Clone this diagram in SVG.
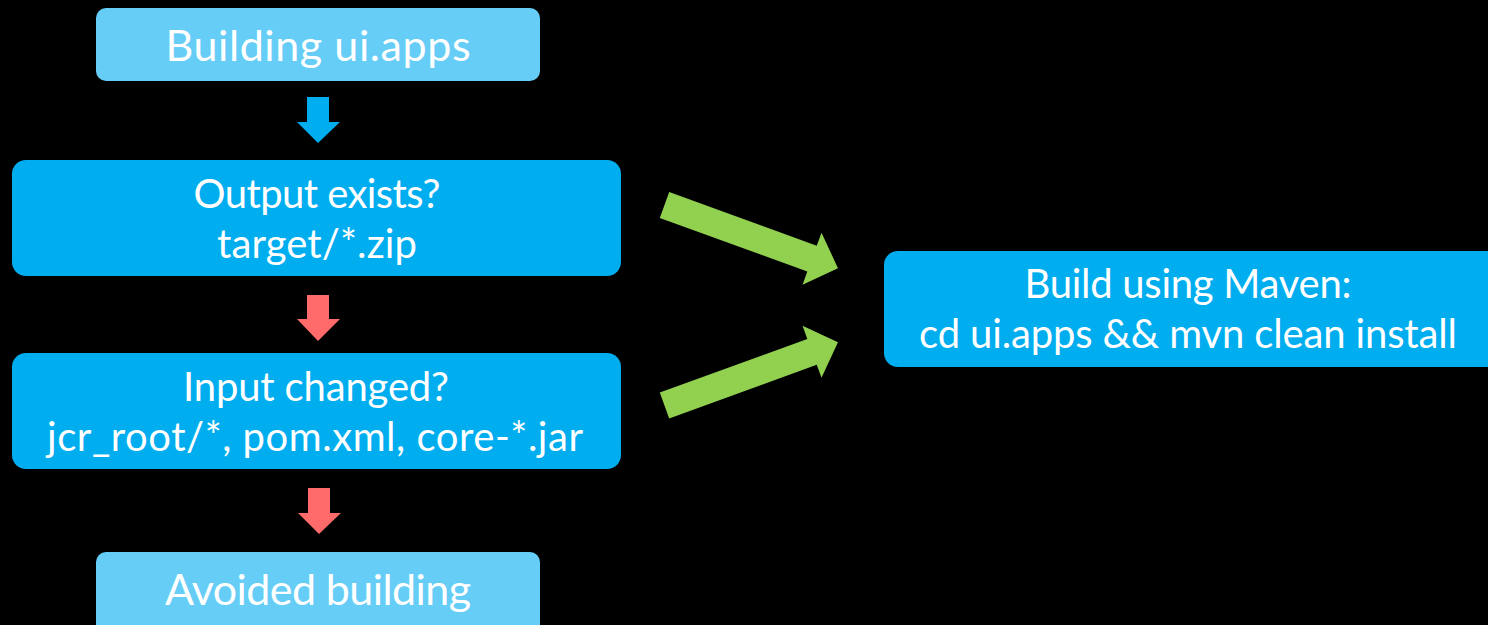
<svg xmlns="http://www.w3.org/2000/svg" width="1488" height="625" viewBox="0 0 1488 625">
<style>
.t{font-family:Lato,"Open Sans",sans-serif;font-size:40px;fill:#fff;text-anchor:middle}
.big{font-size:43px}
.light{fill:#66CDF6}
.mid{fill:#00ADEF}
</style>
<rect width="1488" height="625" fill="#000"/>
<g id="node-building">
<rect class="light" x="96" y="8" width="444" height="73" rx="10"/>
<text class="t big" x="318" y="61" textLength="305">Building ui.apps</text>
</g>
<g id="node-output">
<rect class="mid" x="12" y="160" width="609" height="116" rx="14"/>
<text class="t" x="317" y="208" textLength="247">Output exists?</text>
<text class="t" x="317" y="258" textLength="200">target/*.zip</text>
</g>
<g id="node-input">
<rect class="mid" x="12" y="353" width="609" height="116" rx="14"/>
<text class="t" x="316" y="401" textLength="266">Input changed?</text>
<text class="t" x="315" y="451" textLength="536">jcr_root/*, pom.xml, core-*.jar</text>
</g>
<g id="node-avoided">
<rect class="light" x="96" y="552" width="444" height="90" rx="10"/>
<text class="t big" x="318" y="605" textLength="306">Avoided building</text>
</g>
<g id="node-maven">
<rect class="mid" x="884" y="251" width="620" height="116" rx="14"/>
<text class="t" x="1188" y="298" textLength="327">Build using Maven:</text>
<text class="t" x="1188" y="348" textLength="538">cd ui.apps &amp;&amp; mvn clean install</text>
</g>
<g id="connectors">
<polygon fill="#00ADEF" points="307,97 329,97 329,122 340,122 318,143 297,122 307,122"/>
<polygon fill="#FF6B6B" points="307,295 329,295 329,319 340,319 318,341 297,319 307,319"/>
<polygon fill="#FF6B6B" points="308,488 330,488 330,513 341,513 319,534 298,513 308,513"/>
<polygon fill="#92D050" transform="translate(664.5,205) rotate(20)" points="0,-13.75 157,-13.75 157,-27.7 184.6,0 157,27.7 157,13.75 0,13.75"/>
<polygon fill="#92D050" transform="translate(664.5,405.5) rotate(-20)" points="0,-13.75 157,-13.75 157,-27.7 184.6,0 157,27.7 157,13.75 0,13.75"/>
</g>
</svg>
